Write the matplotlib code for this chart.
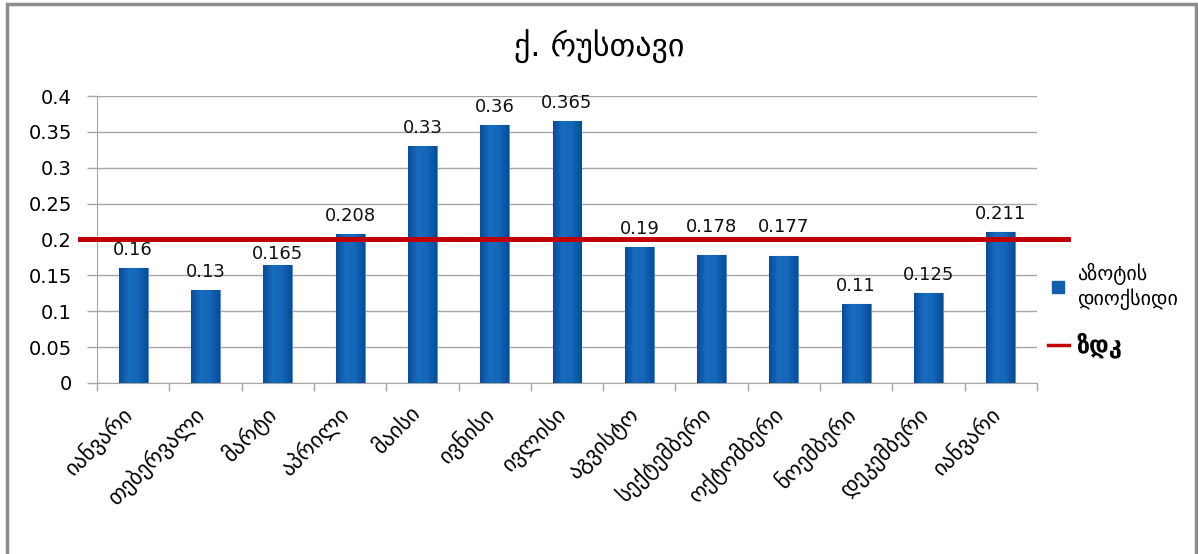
import matplotlib
matplotlib.use('Agg')
import matplotlib.pyplot as plt
import matplotlib.transforms as mtransforms
import numpy as np
from matplotlib.patches import Rectangle
from matplotlib.lines import Line2D
from matplotlib.colors import LinearSegmentedColormap

title = 'ქ. რუსთავი'
months = ['იანვარი', 'თებერვალი', 'მარტი', 'აპრილი', 'მაისი', 'ივნისი', 'ივლისი',
          'აგვისტო', 'სექტემბერი', 'ოქტომბერი', 'ნოემბერი', 'დეკემბერი', 'იანვარი']
no2 = [0.16, 0.13, 0.165, 0.208, 0.33, 0.36, 0.365, 0.19, 0.178, 0.177, 0.11, 0.125, 0.211]
mpc = 0.2
series_name = 'აზოტის\nდიოქსიდი'
limit_name = 'ზდკ'

plt.rcParams['font.family'] = ['DejaVu Sans']

fig = plt.figure(figsize=(11.98, 5.54), dpi=100)
ax = fig.add_axes([0.081, 0.3087, 0.7846, 0.518])

x = np.arange(len(months))
w = 0.4
bar_cmap = LinearSegmentedColormap.from_list('barfill', ['#0a4c94', '#1a6cbf', '#1466b8', '#0a4c94'])
grad = np.linspace(0, 1, 64).reshape(1, -1)
bars = ax.bar(x, no2, width=w, color='#1260ad', edgecolor='#5b93cc', linewidth=0.8, zorder=3)
for b in bars:
    im = ax.imshow(grad, cmap=bar_cmap, aspect='auto', zorder=3.1,
                   extent=[b.get_x(), b.get_x() + b.get_width(), 0, b.get_height()])
    im.set_clip_path(b)

# value labels; ones that would sit on the limit line go just above it,
# or tuck in closer to the bar when there is room underneath
gap, tight, lab_h, half_line = 0.018, 0.008, 0.017, 0.004
for xi, v in zip(x, no2):
    y = v + gap
    if y < mpc + half_line and y + lab_h > mpc - half_line:
        if v + tight + lab_h < mpc - half_line:
            y = v + tight
        else:
            y = mpc + 0.01
    ax.text(xi, y, f'{v:g}', ha='center', va='baseline', fontsize=13, color='#111111', zorder=5)

# limit line runs a little past the plot area on both sides
ax.plot([-0.735, 12.93], [mpc, mpc], color='#c00000', linewidth=3.6, clip_on=False, zorder=4)

ax.set_xlim(-0.5, len(months) - 0.5)
ax.set_ylim(0, 0.4)
ax.set_yticks([i * 0.05 for i in range(9)])
ax.set_yticklabels(['0', '0.05', '0.1', '0.15', '0.2', '0.25', '0.3', '0.35', '0.4'], fontsize=14)
ax.yaxis.grid(True, color='#a6a6a6', linewidth=1, zorder=0)
ax.tick_params(axis='y', length=7, color='#a6a6a6', width=1, pad=11)

ax.set_xticks([i + 0.5 for i in range(-1, len(months))], minor=False)
ax.set_xticklabels([])
ax.tick_params(axis='x', length=6, color='#a6a6a6', width=1)
ax.set_xticks(list(x), minor=True)
ax.set_xticklabels(months, minor=True, rotation=45, ha='right', rotation_mode='anchor', fontsize=16)
ax.tick_params(axis='x', which='minor', length=0, pad=14)
shift = mtransforms.ScaledTranslation(-12 / 100, 0, fig.dpi_scale_trans)
for lbl in ax.get_xticklabels(minor=True):
    lbl.set_transform(lbl.get_transform() + shift)

for s in ['top', 'right']:
    ax.spines[s].set_visible(False)
ax.spines['left'].set_color('#a6a6a6')
ax.spines['bottom'].set_color('#a6a6a6')

fig.text(0.5, 0.915, title, ha='center', va='center', fontsize=23)

handles = [Line2D([0], [0], marker='s', linestyle='none', markersize=8, color='#1260ad'),
           Line2D([0], [0], color='#c00000', linewidth=2.5)]
leg = fig.legend(handles, [series_name, limit_name], loc='center left',
                 bbox_to_anchor=(0.86, 0.44), frameon=False, fontsize=14.5,
                 handlelength=1.0, labelspacing=1.1, handletextpad=0.4)
leg.get_texts()[1].set_fontweight('bold')
leg.get_texts()[1].set_fontsize(17)

fig.patches.append(Rectangle((7 / 1198, -0.02), 1189 / 1198, 1.02 - 4 / 554,
                             transform=fig.transFigure, fill=False,
                             edgecolor='#8c8c8c', linewidth=2.5))

fig.savefig('out.png', dpi=100)
